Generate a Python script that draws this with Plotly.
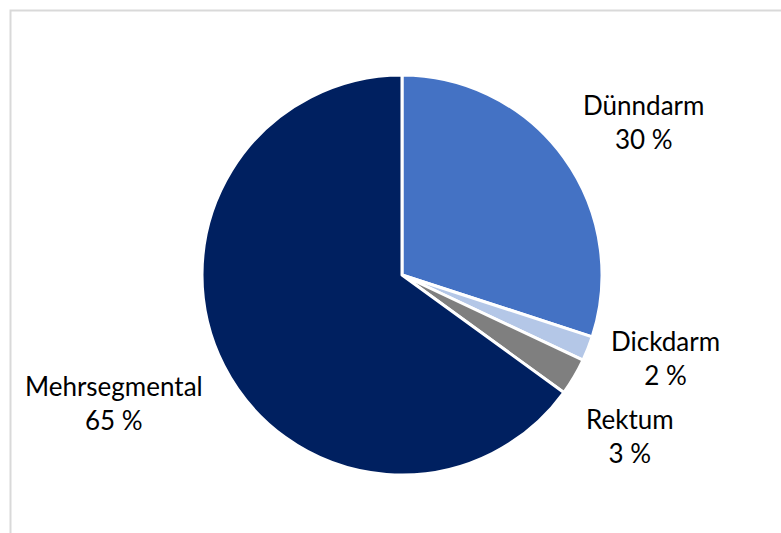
import plotly.graph_objects as go

# Segment shares (percent), drawn clockwise from 12 o'clock
labels = ["Dünndarm", "Dickdarm", "Rektum", "Mehrsegmental"]
values = [30, 2, 3, 65]
colors = ["#4472C4", "#B4C7E7", "#7F7F7F", "#002060"]

W, H = 781, 533
cx, cy, r = 402, 275, 200

fig = go.Figure(
    go.Pie(
        labels=labels,
        values=values,
        sort=False,
        direction="clockwise",
        rotation=0,
        marker=dict(colors=colors, line=dict(color="white", width=3)),
        textinfo="none",
        hoverinfo="label+value",
        showlegend=False,
        domain=dict(
            x=[(cx - r) / W, (cx + r) / W],
            y=[1 - (cy + r) / H, 1 - (cy - r) / H],
        ),
    )
)

# Label placement (pixel centres) for each segment's caption
label_pos = [(643, 122), (665, 358), (630, 436), (113.5, 403)]
for name, val, (px, py) in zip(labels, values, label_pos):
    fig.add_annotation(
        x=px / W, y=1 - py / H, xref="paper", yref="paper",
        text=f"{name}<br>{val} %", showarrow=False,
        xanchor="center", yanchor="middle", align="center",
        font=dict(family="Lato", size=26, color="#000000"),
    )

# Thin grey chart-area frame
fig.add_shape(
    type="rect", xref="paper", yref="paper",
    x0=10.5 / W, x1=1.05, y0=-0.05, y1=1 - 10.5 / H,
    line=dict(color="#D9D9D9", width=2), fillcolor="rgba(0,0,0,0)",
)

fig.update_layout(
    width=W, height=H,
    margin=dict(l=0, r=0, t=0, b=0),
    paper_bgcolor="white", plot_bgcolor="white",
)

fig.write_html("out.html")
